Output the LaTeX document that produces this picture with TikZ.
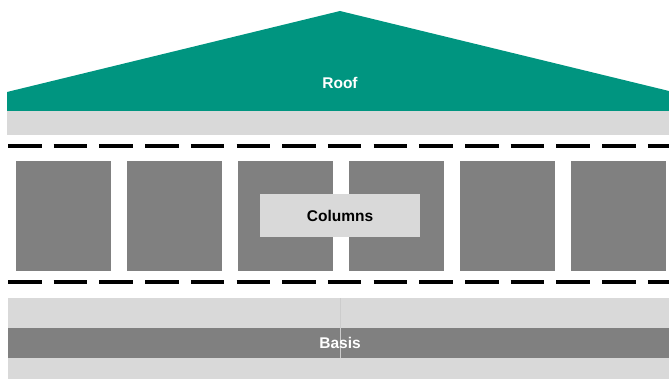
\documentclass[tikz,border=0pt]{standalone}
\usepackage{fontspec}
\setmainfont{Liberation Sans}

\definecolor{roofgreen}{RGB}{0,149,128}
\definecolor{lightband}{RGB}{217,217,217}
\definecolor{darkband}{RGB}{128,128,128}

\tikzset{
  label/.style={font=\bfseries\fontsize{15.5}{18}\selectfont, inner sep=0pt},
  column/.style={fill=darkband, minimum width=95pt, minimum height=110pt, inner sep=0pt},
  divider/.style={line width=4.5pt, dash pattern=on 33.5pt off 12.2pt}
}

\begin{document}
\begin{tikzpicture}[x=1pt,y=-1pt]
    \useasboundingbox (0,0) rectangle (669,379);
    %% Draw the roof
    \fill[roofgreen] (7,111) -- (7,92) -- (340,11) -- (669,91) -- (669,111) -- cycle;
    \fill[lightband] (7,111) rectangle (669,135);
    \node[label, text=white] (roof) at (340,83) {Roof};
    %% Draw the dividers
    \coordinate (d1l) at (8,146);
    \coordinate (d1r) at (669,146);
    \coordinate (d2l) at (8,282);
    \coordinate (d2r) at (669,282);
    \draw[divider] (d1l) -- (d1r);
    \draw[divider] (d2l) -- (d2r);
    %% Draw the columns
    \node[column] (col1) at (63.5,216) {};
    \node[column] (col2) at (174.5,216) {};
    \node[column] (col3) at (285.5,216) {};
    \node[column] (col4) at (396.5,216) {};
    \node[column] (col5) at (507.5,216) {};
    \node[column] (col6) at (618.5,216) {};
    \node[label, fill=lightband, minimum width=160pt, minimum height=43pt] (columns) at (340,216) {Columns};
    %% Draw the basis
    \fill[lightband] (8,298) rectangle (669,328);
    \fill[darkband] (8,328) rectangle (669,358);
    \fill[lightband] (8,358) rectangle (669,379);
    \draw[white!60!darkband, line width=0.4pt] (340,298) -- (340,358);
    \node[label, text=white] (basis) at (340,343) {Basis};
\end{tikzpicture}
\end{document}
